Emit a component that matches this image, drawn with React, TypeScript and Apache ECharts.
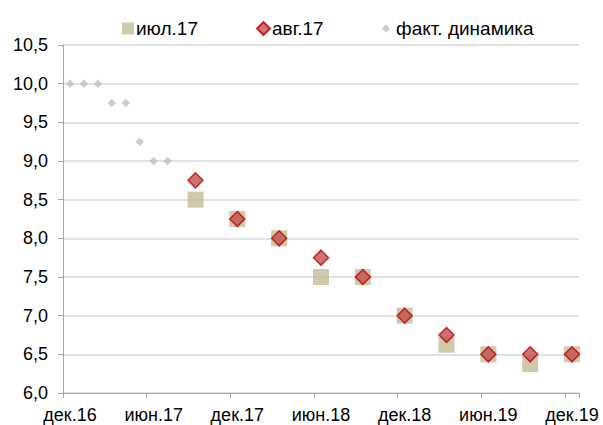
import React, { useEffect, useRef } from "react";
import * as echarts from "echarts";

const months = ["янв", "фев", "мар", "апр", "май", "июн", "июл", "авг", "сен", "окт", "ноя", "дек"];
const categories: string[] = ["дек.16"];
for (const y of ["17", "18", "19"]) for (const m of months) categories.push(m + "." + y);

// values keyed by category label
const factCats = ["дек.16", "янв.17", "фев.17", "мар.17", "апр.17", "май.17", "июн.17", "июл.17"];
const factVals = [10.0, 10.0, 10.0, 9.75, 9.75, 9.25, 9.0, 9.0];
const fcCats = ["сен.17", "дек.17", "мар.18", "июн.18", "сен.18", "дек.18", "мар.19", "июн.19", "сен.19", "дек.19"];
const julVals = [8.5, 8.25, 8.0, 7.5, 7.5, 7.0, 6.625, 6.5, 6.375, 6.5];
const augVals = [8.75, 8.25, 8.0, 7.75, 7.5, 7.0, 6.75, 6.5, 6.5, 6.5];
const yTicks = [6.0, 6.5, 7.0, 7.5, 8.0, 8.5, 9.0, 9.5, 10.0, 10.5];

const toSeries = (cats: string[], vals: number[]) =>
  categories.map((c) => {
    const i = cats.indexOf(c);
    return i >= 0 ? vals[i] : null;
  });

const FONT = "Liberation Sans, Arial, sans-serif";

export default function App() {
  const ref = useRef<HTMLDivElement>(null);
  useEffect(() => {
    if (!ref.current) return;
    const chart = echarts.init(ref.current, undefined, { renderer: "svg" });
    const legendText = { fontFamily: FONT, fontSize: 19, color: "#000", lineHeight: 20 };
    chart.setOption({
      animation: false,
      backgroundColor: "#fff",
      textStyle: { fontFamily: FONT },
      legend: [
        { data: ["июл.17"], left: 122, top: 18, padding: 0, icon: "rect", itemWidth: 12, itemHeight: 12, textStyle: { ...legendText, padding: [1, 0, 0, -3] } },
        { data: ["авг.17"], left: 256, top: 18, padding: 0, icon: "diamond", itemWidth: 13, itemHeight: 13, textStyle: { ...legendText, padding: [1, 0, 0, -3] } },
        { data: ["факт. динамика"], left: 382, top: 18, padding: 0, icon: "diamond", itemWidth: 8, itemHeight: 8, textStyle: { ...legendText, padding: [1, 0, 0, 1] } },
      ],
      grid: { left: 63, right: 24, top: 45, bottom: 32, containLabel: false },
      xAxis: {
        type: "category",
        data: categories,
        boundaryGap: true,
        axisLine: { lineStyle: { color: "#A6A6A6", width: 1 } },
        axisTick: { show: true, interval: 5, length: 5, lineStyle: { color: "#A6A6A6" } },
        axisLabel: { interval: 5, color: "#000", fontFamily: FONT, fontSize: 18, margin: 13 },
        splitLine: { show: false },
      },
      yAxis: {
        type: "value",
        min: 6,
        max: 10.5,
        interval: 0.5,
        axisLine: { show: true, lineStyle: { color: "#A6A6A6", width: 1 } },
        axisTick: { show: true, length: 5, lineStyle: { color: "#A6A6A6" } },
        axisLabel: {
          color: "#000",
          fontFamily: FONT,
          fontSize: 18,
          margin: 15,
          formatter: (v: number) => (yTicks.includes(v) ? v.toFixed(1).replace(".", ",") : ""),
        },
        splitLine: { lineStyle: { color: "#D9D9D9", width: 1.5 } },
      },
      series: [
        {
          name: "июл.17",
          type: "scatter",
          symbol: "rect",
          symbolSize: 16,
          itemStyle: { color: "#C4BD97" },
          data: toSeries(fcCats, julVals),
          z: 2,
        },
        {
          name: "авг.17",
          type: "scatter",
          symbol: "diamond",
          symbolSize: 15,
          itemStyle: { color: "#C0504D", borderColor: "#C00000", borderWidth: 1.5 },
          data: toSeries(fcCats, augVals),
          z: 3,
        },
        {
          name: "факт. динамика",
          type: "scatter",
          symbol: "diamond",
          symbolSize: 8.5,
          itemStyle: { color: "#BFBFBF" },
          data: toSeries(factCats, factVals),
          z: 3,
        },
      ],
    });
    return () => chart.dispose();
  }, []);
  return <div ref={ref} style={{ width: 603, height: 425, position: "absolute", left: 0, top: 0 }} />;
}
